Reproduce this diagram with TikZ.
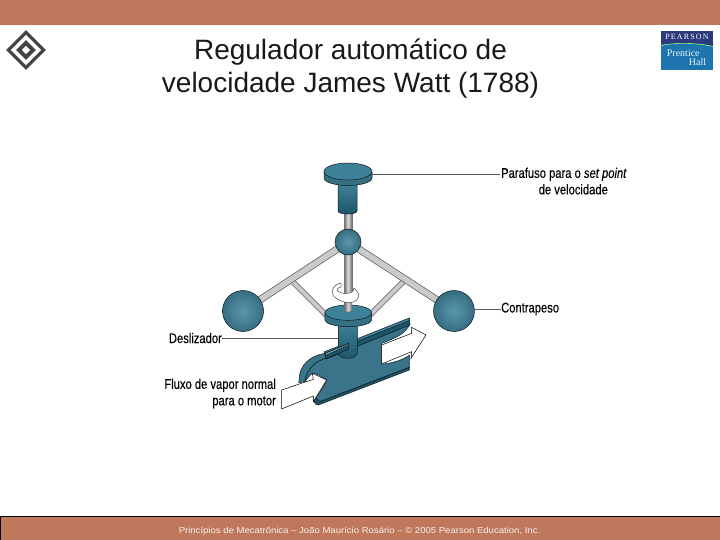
\documentclass[tikz,border=0pt]{standalone}
\usepackage{fontspec}
\setmainfont{Liberation Sans}
\newfontfamily\serifface{Liberation Serif}
\newfontfamily\pearsonface[LetterSpace=14]{Liberation Serif}
\newfontfamily\labelface[FakeBold=0.25]{Liberation Sans}
\definecolor{bar}{HTML}{C0785C}
\definecolor{teal}{HTML}{3F8199}
\definecolor{tealdk}{HTML}{1D5468}
\definecolor{teallt}{HTML}{5A97AB}
\definecolor{rod}{HTML}{C4C4C4}
\definecolor{gry}{HTML}{444444}
\definecolor{navy}{HTML}{2B3A7C}
\definecolor{pblue}{HTML}{1E74AE}
\tikzset{
 ink/.style={draw=black!80!teal,line width=.5pt},
 ballshade/.style={circle,inner sep=0pt,ink,inner color=teallt,outer color=teal!85!black},
 cyl/.style={ink,top color=teal,bottom color=tealdk},
 plate/.style={ink,fill=teal!90!black},
 rodv/.style={draw=black!55,line width=.4pt,left color=rod!55!black,right color=rod!55!black,middle color=rod!60!white},
 armline/.style={line width=7.2pt,draw=black!65},
 armfill/.style={line width=5.8pt,draw=rod!90!white},
 lbl/.style={inner sep=0pt,font=\labelface\fontsize{14}{16.5}\selectfont,text=black,xscale=.8},
 leader/.style={draw=black!65,line width=.6pt},
 flow/.style={draw=black,line width=.5pt,fill=white}
}
\begin{document}
\begin{tikzpicture}[x=1pt,y=-1pt]
\useasboundingbox (0,0) rectangle (720,540);
\fill[white] (0,0) rectangle (720,540);
\fill[bar] (0,0) rectangle (720,25);
\fill[bar] (0,516.5) rectangle (720,540);
\draw[black,line width=1.2pt] (0.5,540) -- (0.5,516.5) -- (720,516.5);
% diamond logo
\draw[gry,line width=3.2pt] (26,32.3) -- (43.7,50) -- (26,67.7) -- (8.3,50) -- cycle;
\draw[gry,line width=3.9pt] (26,42.8) -- (33.2,50) -- (26,57.2) -- (18.8,50) -- cycle;
% pearson logo
\fill[pblue] (661,31) rectangle (713,70);
\fill[navy] (661,31) rectangle (713,44);
\fill[navy] (661,45) .. controls (675,42) and (695,42) .. (713,46) -- (713,43) -- (661,43) -- cycle;
\draw[green!45!white,line width=.6pt] (661,45.5) .. controls (675,42.5) and (695,42.5) .. (713,46.5);
\node[inner sep=0pt,text=white,font=\pearsonface\fontsize{8}{8}\selectfont] (pearson) at (687,37) {PEARSON};
\node[inner sep=0pt,text=white!90!cyan,font=\serifface\fontsize{10}{9.5}\selectfont,align=left] (ph) at (686.5,57.5) {Prentice\\\hspace*{22pt}Hall};
% title
\node[inner sep=0pt,align=center,font=\fontsize{28}{33}\selectfont,text=black!90] (title) at (350.5,69) {Regulador automático de\\velocidade James Watt (1788)};
% footer
\node[inner sep=0pt,text=white!90!bar,font=\fontsize{8.6}{10}\selectfont,xscale=1.11] (foot) at (359.5,531.5) {Princípios de Mecatrônica – João Maurício Rosário – © 2005 Pearson Education, Inc.};
% arms
\coordinate (hub) at (348,242);
\coordinate (lball) at (243,311);
\coordinate (rball) at (454,311);
\coordinate (ljoin) at (293,282);
\coordinate (rjoin) at (403,282);
\coordinate (lfoot) at (332,321);
\coordinate (rfoot) at (364,321);
\foreach \a/\b in {ljoin/lfoot,rjoin/rfoot} {
 \draw[line width=5.4pt,draw=black!65] (\a) -- (\b);
 \draw[line width=4.2pt,draw=rod!90!white] (\a) -- (\b);
}
\draw[armline] (hub) -- (lball);
\draw[armline] (hub) -- (rball);
\draw[armfill] (hub) -- (lball);
\draw[armfill] (hub) -- (rball);
% central rod
\path[rodv] (344,212) rectangle (352,300);
% top screw
\path[cyl] (338,184) -- (338,211) .. controls (338,215) and (357,215) .. (357,211) -- (357,184) -- cycle;
\path[plate,fill=teal!85!black] (324,172) -- (324,178) arc[start angle=180,end angle=360,x radius=24,y radius=-7.5] -- (372,172) -- cycle;
\path[ink,fill=teal] (348,171.5) ellipse[x radius=24,y radius=8.5];
% balls
\node[ballshade,minimum size=26pt] (hubn) at (hub) {};
\node[ballshade,minimum size=41pt] (lb) at (lball) {};
\node[ballshade,minimum size=41pt] (rb) at (rball) {};
% valve
\begin{scope}[shift={(150,290)},x=0.3333pt,y=-0.3333pt]
 % left flange
 \path[plate] (447,278) .. controls (445,225) and (480,197) .. (525,190) -- (528,205) .. controls (500,212) and (470,235) .. (465,275) -- cycle;
 % body
 \path[plate] (465,275) .. controls (470,235) and (500,212) .. (528,205) -- (780,100) .. controls (770,130) and (735,145) .. (695,160) -- (695,222) .. controls (720,222) and (760,210) .. (778,195) -- (778,232) -- (510,335) .. controls (500,335) and (495,345) .. (490,330) .. controls (510,310) and (515,300) .. (530,270) .. controls (515,260) and (500,250) .. (487,250) .. controls (480,255) and (472,265) .. (465,275) -- cycle;
 % top flat plate strip
 \path[plate,fill=tealdk] (525,192) -- (778,90) -- (780,105) -- (528,207) -- cycle;
 \path[plate,fill=teal] (522,186) -- (778,84) -- (780,91) -- (525,193) -- cycle;
 % bottom plate
 \path[plate,fill=tealdk] (495,322) -- (510,335) -- (778,232) -- (778,240) -- (505,345) .. controls (495,345) and (490,335) .. (495,322) -- cycle;
 % slider stem
 \path[cyl] (565,100) -- (565,190) .. controls (570,210) and (615,210) .. (622,190) -- (622,100) -- cycle;
 % slot piece over stem
 \path[plate,fill=tealdk] (525,190) -- (595,160) -- (595,178) -- (528,206) -- cycle;
 \path[plate,fill=teal!75!white] (525,190) -- (595,161) -- (597,165) -- (528,196) -- cycle;
 % slider head
 \path[plate,fill=teal!85!black] (525,68) -- (525,90) arc[start angle=180,end angle=360,x radius=70,y radius=-20] -- (665,68) -- cycle;
 \path[ink,fill=teal] (595,68) ellipse[x radius=70,y radius=23];
 \path[rodv] (583,30) -- (583,62) arc[start angle=180,end angle=360,x radius=11.5,y radius=-4] -- (606,30) -- cycle;
 % flow arrows
 \path[flow] (395,300) -- (490,268) -- (487,250) -- (530,270) -- (490,335) -- (490,318) -- (395,357) -- cycle;
 \path[flow] (695,165) -- (785,130) -- (785,112) -- (828,135) -- (783,205) -- (785,185) -- (695,222) -- cycle;
\end{scope}
% rotation arrow
\path[flow,draw=black!70] (341,283) .. controls (331,285) and (330,295) .. (336,298) .. controls (342,303) and (355,305) .. (358,298) -- (359,294) -- (354,288) .. controls (355,293) and (345,295) .. (339,292) .. controls (336,290) and (337,288) .. (341,287) -- cycle;
% labels
\node[lbl,anchor=north west,align=left] (setpt) at (501,167.5) {Parafuso para o \textit{set point}\\\hspace*{47pt}de velocidade};
\node[lbl,anchor=west] (contra) at (501,309) {Contrapeso};
\node[lbl,anchor=east] (desl) at (222,338) {Deslizador};
\node[lbl,anchor=north east,align=right] (fluxo) at (276,378.5) {Fluxo de vapor normal\\para o motor};
\coordinate (capR) at (372,174);
\coordinate (setL) at (500,174);
\coordinate (rbR) at (473,309);
\coordinate (stemL) at (338,338);
\draw[leader] (capR) -- (setL);
\draw[leader] (rbR) -- (contra.west);
\draw[leader] (desl.east) -- (stemL);
\end{tikzpicture}
\end{document}
